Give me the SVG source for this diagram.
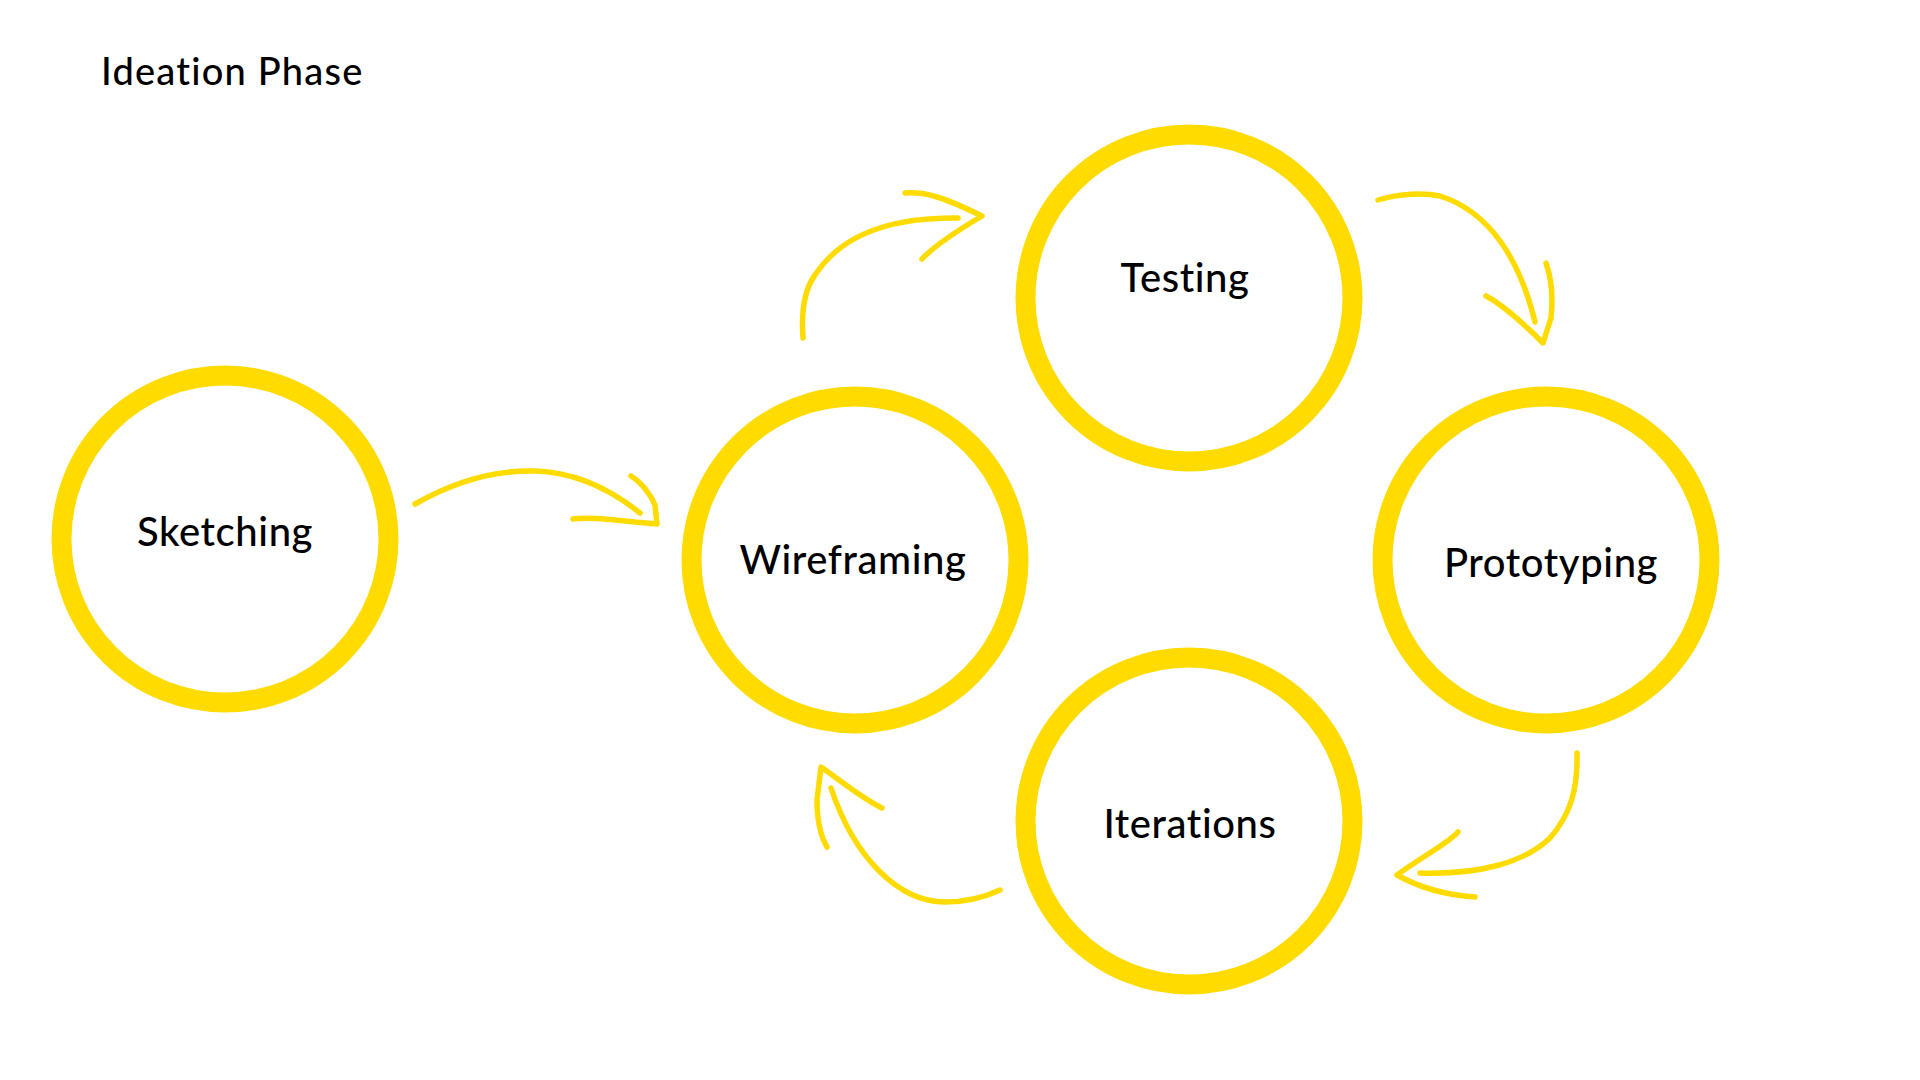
<svg xmlns="http://www.w3.org/2000/svg" width="1920" height="1080" viewBox="0 0 1920 1080">
  <style>
    .ring { fill: #ffffff; stroke: #FFDB00; stroke-width: 20; }
    .label { font-family: Lato, "Open Sans", "Liberation Sans", sans-serif; font-weight: 500; font-size: 40px; letter-spacing: 0.6px; fill: #000000; text-anchor: middle; }
    .title { font-family: Lato, "Open Sans", "Liberation Sans", sans-serif; font-weight: 500; font-size: 38px; letter-spacing: 1.2px; fill: #000000; }
    .stroke { fill: none; stroke: #FFDB00; stroke-width: 5.5; stroke-linecap: round; stroke-linejoin: round; }
  </style>
  <rect width="1920" height="1080" fill="#ffffff"/>

  <text class="title" x="101" y="85">Ideation Phase</text>

  <!-- hand-drawn connectors between the phases -->
  <g id="connectors">
    <!-- Sketching to Wireframing -->
    <g id="c-sketching-wireframing">
      <path class="stroke" d="M415,504 C455,481 497,470 535,471 C575,472 610,489 640,513"/>
      <path class="stroke" d="M631,476 C642,483 651,495 655,505 L657,524 L635,522 C610,519 585,517 573,519"/>
    </g>
    <!-- Wireframing to Testing -->
    <g id="c-wireframing-testing">
      <path class="stroke" d="M803,338 C801,310 804,290 815,275 C838,240 880,217 958,218"/>
      <path class="stroke" d="M905,193 C925,191 945,198 982,216 C955,232 935,245 922,259"/>
    </g>
    <!-- Testing to Prototyping -->
    <g id="c-testing-prototyping">
      <path class="stroke" d="M1378,200 C1400,193 1425,193 1440,196 C1490,212 1520,260 1535,322"/>
      <path class="stroke" d="M1546,263 C1552,280 1553,300 1551,318 L1543,343 C1525,325 1505,306 1486,296"/>
    </g>
    <!-- Prototyping to Iterations -->
    <g id="c-prototyping-iterations">
      <path class="stroke" d="M1577,753 C1578,790 1570,815 1550,838 C1525,862 1480,875 1420,873"/>
      <path class="stroke" d="M1458,832 C1450,842 1420,858 1397,875 C1420,888 1445,895 1475,897"/>
    </g>
    <!-- Iterations back to Wireframing -->
    <g id="c-iterations-wireframing">
      <path class="stroke" d="M1000,890 C985,897 965,902 945,902 C900,902 855,860 831,788"/>
      <path class="stroke" d="M827,847 C820,835 817,820 817,800 L821,767 C840,780 860,797 882,808"/>
    </g>
  </g>

  <g id="sketching">
    <circle class="ring" cx="225" cy="539" r="163.5"/>
    <text class="label" x="225" y="546">Sketching</text>
  </g>
  <g id="wireframing">
    <circle class="ring" cx="855" cy="560" r="163.5"/>
    <text class="label" x="853" y="574">Wireframing</text>
  </g>
  <g id="testing">
    <circle class="ring" cx="1189" cy="298" r="163.5"/>
    <text class="label" x="1185" y="292">Testing</text>
  </g>
  <g id="prototyping">
    <circle class="ring" cx="1546" cy="560" r="163.5"/>
    <text class="label" x="1551" y="577">Prototyping</text>
  </g>
  <g id="iterations">
    <circle class="ring" cx="1189" cy="821" r="163.5"/>
    <text class="label" x="1190" y="838">Iterations</text>
  </g>
</svg>
